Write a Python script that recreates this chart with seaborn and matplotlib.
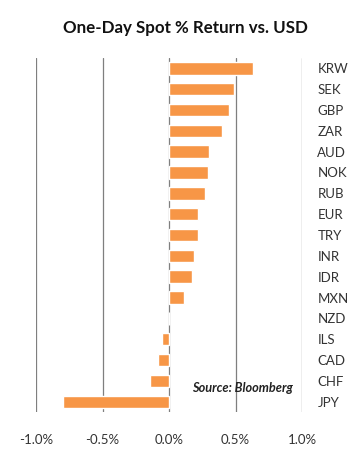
import matplotlib
matplotlib.use("Agg")
import matplotlib.pyplot as plt
import seaborn as sns
import pandas as pd

# 통화별 하루 수익률 (%)
currencies = ["KRW", "SEK", "GBP", "ZAR", "AUD", "NOK", "RUB", "EUR", "TRY",
              "INR", "IDR", "MXN", "NZD", "ILS", "CAD", "CHF", "JPY"]
returns = [0.63, 0.49, 0.45, 0.40, 0.30, 0.29, 0.27, 0.22, 0.22,
           0.19, 0.17, 0.11, 0.0, -0.055, -0.08, -0.145, -0.795]
xticks = [-1.0, -0.5, 0.0, 0.5, 1.0]
xtick_labels = ["-1.0%", "-0.5%", "0.0%", "0.5%", "1.0%"]

df = pd.DataFrame({"ccy": currencies, "ret": returns})

sns.set_style("white")
plt.rcParams["font.family"] = ["Lato", "DejaVu Sans"]

fig = plt.figure(figsize=(3.5, 4.59), dpi=100)
ax = fig.add_axes([0.103, 0.102, 0.760, 0.772])

sns.barplot(data=df, x="ret", y="ccy", orient="h", color="#F79646",
            saturation=1, width=0.6, ax=ax)

# 세로 격자선
for v in xticks:
    ax.axvline(v, color="#7f7f7f", lw=0.9, zorder=0)

ax.set_xlim(-1.0, 1.0)
ax.set_ylim(16.5, -0.5)
ax.set_xticks(xticks)
ax.set_xticklabels(xtick_labels)
ax.yaxis.tick_right()
ax.tick_params(axis="y", length=0, pad=11, labelsize=9.5, labelcolor="#333333")
ax.tick_params(axis="x", length=0, pad=16, labelsize=9.5, labelcolor="#333333")
for lbl in ax.get_yticklabels():
    lbl.set_horizontalalignment("left")
ax.set_xlabel("")
ax.set_ylabel("")
sns.despine(ax=ax, left=True, bottom=True, right=True, top=True)

fig.text(0.53, 0.94, "One-Day Spot % Return vs. USD", ha="center", va="center",
         fontsize=12.2, fontweight="bold", color="#111111")
ax.text(0.17, 15.33, "Source: Bloomberg", ha="left", va="center",
        fontsize=9.2, fontweight="bold", fontstyle="italic", color="#222222")

fig.savefig("out.png", dpi=100)
plt.close(fig)
